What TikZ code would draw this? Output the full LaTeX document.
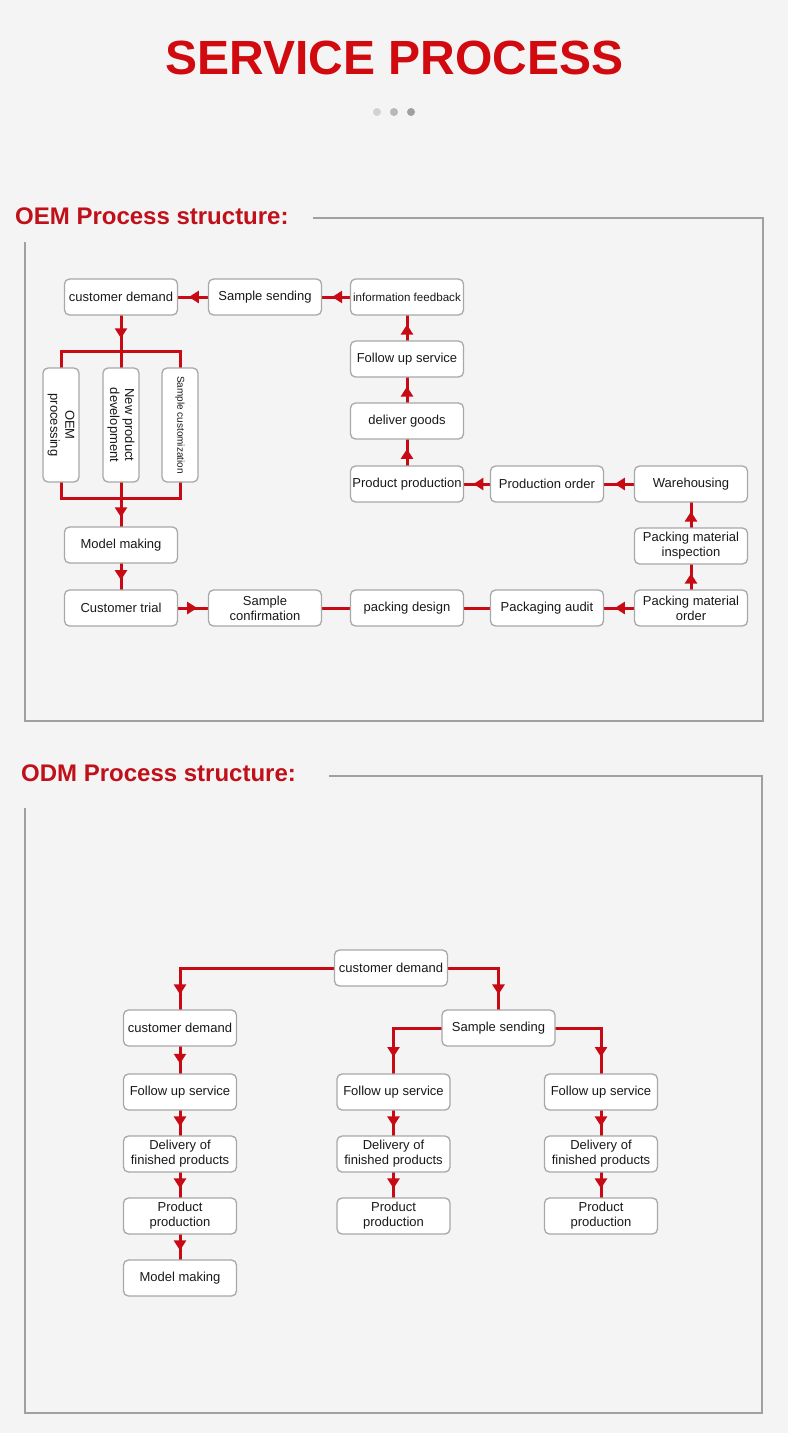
\documentclass[tikz,border=0pt]{standalone}
\usepackage{fontspec}
\setmainfont{Liberation Sans}
\usetikzlibrary{arrows.meta,decorations.markings}
\definecolor{bg}{HTML}{F4F4F4}
\definecolor{tred}{HTML}{D00A0F}
\definecolor{hred}{HTML}{C0101A}
\definecolor{lred}{HTML}{C80A14}
\definecolor{framec}{HTML}{A0A0A0}
\definecolor{boxline}{HTML}{A8A8A8}
\definecolor{dotA}{HTML}{D2D2D2}
\definecolor{dotB}{HTML}{B8B8B8}
\definecolor{dotC}{HTML}{A0A0A0}
\pgfdeclarelayer{bgl}
\pgfdeclarelayer{lines}
\pgfsetlayers{bgl,lines,main}
\tikzset{
  box/.style={draw=boxline, line width=1.3pt, fill=white, rounded corners=5pt,
    minimum width=113pt, minimum height=36pt, inner sep=1pt, align=center,
    text=black!90, font=\fontsize{13}{15}\selectfont},
  vbox/.style={box, minimum width=114pt, minimum height=36pt, rotate=-90},
  link/.style={draw=lred, line width=3pt, line cap=rect, line join=miter},
  midarrow/.style={link, postaction={decorate}, decoration={markings,
    mark=at position #1 with {\arrow[lred]{Triangle[width=12pt,length=10pt]}}}},
  midarrow/.default=0.64,
  framel/.style={draw=framec, line width=1.5pt},
  head/.style={anchor=base west, inner sep=0pt, text=hred, font=\bfseries\fontsize{24}{26}\selectfont},
}
\begin{document}
\begin{tikzpicture}[x=1pt,y=-1pt]
\begin{pgfonlayer}{bgl}
\fill[bg] (0,0) rectangle (788,1433);
\end{pgfonlayer}
\useasboundingbox (0,0) rectangle (788,1433);

% title
\node[anchor=base, inner sep=0pt, text=tred, font=\bfseries\fontsize{48}{50}\selectfont] (title) at (394.5,74) {SERVICE PROCESS};
\fill[dotA] (377,112) circle (4);
\fill[dotB] (394,112) circle (4);
\fill[dotC] (411,112) circle (4);

% OEM header and frame
\node[head] (h1) at (15,224) {OEM Process structure:};
\draw[framel] (313,218) -- (763,218) -- (763,721) -- (25,721) -- (25,242);

% OEM nodes
\node[box] (c1) at (121,297) {customer demand};
\node[box] (c2) at (265,297) {Sample sending};
\node[box, font=\fontsize{11.6}{13}\selectfont] (c3) at (407,297) {information feedback};
\node[box] (c4) at (407,359) {Follow up service};
\node[box] (c5) at (407,421) {deliver goods};
\node[box] (c6) at (407,484) {Product production};
\node[box] (c7) at (547,484) {Production order};
\node[box] (c8) at (691,484) {Warehousing};
\node[box] (c9) at (691,546) {Packing material\\inspection};
\node[box] (c10) at (691,608) {Packing material\\order};
\node[box] (c11) at (547,608) {Packaging audit};
\node[box] (c12) at (407,608) {packing design};
\node[box] (c13) at (265,608) {Sample\\confirmation};
\node[box] (c14) at (121,608) {Customer trial};
\node[box] (c15) at (121,545) {Model making};
\node[vbox] (v1) at (61,425) {OEM\\processing};
\node[vbox] (v2) at (121,425) {New product\\development};
\node[vbox, font=\fontsize{10}{11}\selectfont] (v3) at (180,425) {Sample customization};
\coordinate (t1) at (121,351);
\coordinate (b1) at (121,498);

\begin{pgfonlayer}{lines}
\draw[midarrow] (c2) -- (c1);
\draw[midarrow] (c3) -- (c2);
\draw[midarrow] (c4) -- (c3);
\draw[midarrow] (c5) -- (c4);
\draw[midarrow] (c6) -- (c5);
\draw[midarrow] (c7) -- (c6);
\draw[midarrow] (c8) -- (c7);
\draw[midarrow] (c9) -- (c8);
\draw[midarrow] (c10) -- (c9);
\draw[midarrow] (c10) -- (c11);
\draw[link] (c11) -- (c12);
\draw[link] (c12) -- (c13);
\draw[midarrow] (c14) -- (c13);
\draw[midarrow] (c15) -- (c14);
\draw[midarrow] (c1) -- (t1);
\draw[link] (v1.west) -- (v1.west |- t1) -- (v3.west |- t1) -- (v3.west);
\draw[link] (t1) -- (v2.west);
\draw[link] (v1.east) -- (v1.east |- b1) -- (v3.east |- b1) -- (v3.east);
\draw[link] (v2.east) -- (b1);
\draw[midarrow=0.68] (b1) -- (c15);
\end{pgfonlayer}

% ODM header and frame
\node[head] (h2) at (21,781) {ODM Process structure:};
\draw[framel] (329,776) -- (762,776) -- (762,1413) -- (25,1413) -- (25,808);

% ODM nodes
\node[box] (d0) at (391,968) {customer demand};
\node[box] (l1) at (180,1028) {customer demand};
\node[box] (l2) at (180,1092) {Follow up service};
\node[box] (l3) at (180,1154) {Delivery of\\finished products};
\node[box] (l4) at (180,1216) {Product\\production};
\node[box] (l5) at (180,1278) {Model making};
\node[box] (s1) at (498.5,1028) {Sample sending};
\node[box] (m1) at (393.5,1092) {Follow up service};
\node[box] (m2) at (393.5,1154) {Delivery of\\finished products};
\node[box] (m3) at (393.5,1216) {Product\\production};
\node[box] (r1) at (601,1092) {Follow up service};
\node[box] (r2) at (601,1154) {Delivery of\\finished products};
\node[box] (r3) at (601,1216) {Product\\production};
\coordinate (k1) at (l1 |- d0);
\coordinate (k2) at (s1 |- d0);
\coordinate (k3) at (m1 |- s1);
\coordinate (k4) at (r1 |- s1);

\begin{pgfonlayer}{lines}
\draw[link] (d0) -- (k1);
\draw[midarrow] (k1) -- (l1);
\draw[link] (d0) -- (k2);
\draw[midarrow] (k2) -- (s1);
\draw[link] (s1) -- (k3);
\draw[midarrow] (k3) -- (m1);
\draw[link] (s1) -- (k4);
\draw[midarrow] (k4) -- (r1);
\draw[midarrow] (l1) -- (l2);
\draw[midarrow] (l2) -- (l3);
\draw[midarrow] (l3) -- (l4);
\draw[midarrow] (l4) -- (l5);
\draw[midarrow] (m1) -- (m2);
\draw[midarrow] (m2) -- (m3);
\draw[midarrow] (r1) -- (r2);
\draw[midarrow] (r2) -- (r3);
\end{pgfonlayer}
\end{tikzpicture}
\end{document}
